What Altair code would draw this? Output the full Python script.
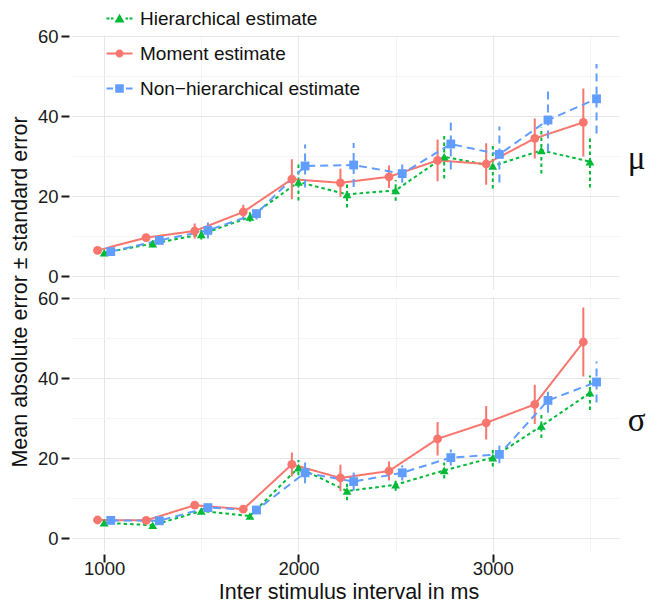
import altair as alt
import pandas as pd

isi = [1000, 1250, 1500, 1750, 2000, 2250, 2500, 2750, 3000, 3250, 3500]
params = ["\u03bc", "\u03c3"]
series = ["Hierarchical estimate", "Moment estimate", "Non\u2212hierarchical estimate"]
colors = ["#00BA38", "#F8766D", "#619CFF"]
shapes = ["triangle-up", "circle", "square"]
dashes = [[3.5, 3], [1, 0], [8, 5]]

# mu panel
hier_mu = [5.8, 8.1, 10.4, 14.75, 23.5, 20.4, 21.4, 29.8, 27.5, 31.4, 28.6]
hier_mu_se = [0.5, 0.9, 1.3, 1.2, 4.6, 3.3, 2.6, 5.4, 5.6, 5.75, 6.5]
mom_mu = [6.4, 9.6, 11.25, 16.0, 24.2, 23.3, 24.8, 28.9, 28.0, 34.4, 38.4]
mom_mu_se = [0.4, 0.7, 1.9, 1.8, 5.0, 3.5, 2.8, 5.2, 5.2, 5.0, 8.5]
non_mu = [6.1, 8.9, 11.4, 15.6, 27.5, 27.75, 25.6, 33.0, 30.4, 39.0, 44.3]
non_mu_se = [0.5, 0.8, 2.0, 1.5, 5.4, 5.5, 2.3, 6.4, 7.0, 7.9, 8.7]

# sigma panel
hier_sig = [3.8, 3.2, 6.75, 5.5, 17.6, 11.75, 13.3, 16.9, 20.1, 28.0, 36.3]
hier_sig_se = [0.4, 0.5, 0.6, 0.6, 1.9, 2.3, 1.5, 2.0, 2.2, 3.0, 4.3]
mom_sig = [4.5, 4.4, 8.2, 7.2, 18.4, 15.0, 16.75, 24.8, 28.8, 33.4, 49.0]
mom_sig_se = [0.4, 0.5, 0.6, 0.6, 3.0, 3.3, 2.4, 4.2, 4.2, 4.9, 8.6]
non_sig = [4.4, 4.3, 7.6, 7.0, 16.3, 14.1, 16.3, 20.1, 20.9, 34.4, 39.0]
non_sig_se = [0.4, 0.5, 0.6, 0.5, 2.6, 2.3, 1.9, 2.0, 2.2, 3.1, 5.1]

blocks = {
    params[0]: [(hier_mu, hier_mu_se), (mom_mu, mom_mu_se), (non_mu, non_mu_se)],
    params[1]: [(hier_sig, hier_sig_se), (mom_sig, mom_sig_se), (non_sig, non_sig_se)],
}
rows = []
for p in params:
    for s, (vals, ses) in zip(series, blocks[p]):
        for x, v, e in zip(isi, vals, ses):
            rows.append(dict(param=p, series=s, isi=x, value=v, se=e))
df = pd.DataFrame(rows)

FONT = "Liberation Sans"

legend_paths = [
    "M-2.6,-0.2H-2.0V0.2H-2.6Z M-1.7,-0.2H-1.2V0.2H-1.7Z M1.2,-0.2H1.7V0.2H1.2Z M2.0,-0.2H2.6V0.2H2.0Z M-1,0.8L0,-0.95L1,0.8Z",
    "M-2.6,-0.2H2.6V0.2H-2.6Z M-0.8,0A0.8,0.8,0,1,1,0.8,0A0.8,0.8,0,1,1,-0.8,0Z",
    "M-2.6,-0.2H-1.3V0.2H-2.6Z M1.3,-0.2H2.6V0.2H1.3Z M-0.85,-0.85H0.85V0.85H-0.85Z",
]

x_enc = alt.X(
    "xpos:Q",
    scale=alt.Scale(domain=[850, 3665], nice=False, zero=False),
    axis=alt.Axis(
        values=[1000, 1500, 2000, 2500, 3000, 3500],
        format="d",
        labelExpr="datum.value % 1000 === 0 ? datum.label : ''",
        tickOpacity={"condition": {"test": "datum.value % 1000 !== 0", "value": 0}, "value": 1},
        gridColor={"condition": {"test": "datum.value % 1000 !== 0", "value": "#F4F4F4"}, "value": "#E6E6E6"},
        labelPadding=-3,
        titlePadding=4,
        title="Inter stimulus interval in ms",
    ),
)
y_scale = alt.Scale(domain=[-2.5, 61], nice=False, zero=False)
y_axis = alt.Axis(
    values=[0, 10, 20, 30, 40, 50, 60],
    labelExpr="datum.value % 20 === 0 ? datum.label : ''",
    tickOpacity={"condition": {"test": "datum.value % 20 !== 0", "value": 0}, "value": 1},
    gridColor={"condition": {"test": "datum.value % 20 !== 0", "value": "#F4F4F4"}, "value": "#E6E6E6"},
    labelPadding=3,
    title=None,
)

color_scale = alt.Scale(domain=series, range=colors)
color_enc = alt.Color("series:N", scale=color_scale, title=None)

base = alt.Chart().transform_calculate(
    xpos="datum.isi + (datum.series === 'Moment estimate' ? -34 : (datum.series === 'Hierarchical estimate' ? 0 : 34))",
    lo="datum.value - datum.se",
    hi="datum.value + datum.se",
)

# legend-only layer (no rows drawn): coloured custom symbols showing line style + marker
leg = base.transform_filter("false").mark_point(filled=True, opacity=1).encode(
    x=x_enc,
    y=alt.Y("value:Q", scale=y_scale, axis=y_axis),
    color=color_enc,
    shape=alt.Shape("series:N", scale=alt.Scale(domain=series, range=legend_paths), title=None),
)

layers = [leg]
for s, dsh in zip(series, dashes):
    sub = base.transform_filter(alt.datum.series == s)
    layers.append(
        sub.mark_rule(strokeWidth=2, strokeDash=dsh).encode(
            x=x_enc, y=alt.Y("lo:Q", scale=y_scale, axis=y_axis), y2="hi:Q", color=color_enc
        )
    )
    layers.append(
        sub.mark_line(strokeWidth=2, strokeDash=dsh).encode(
            x=x_enc, y=alt.Y("value:Q", scale=y_scale, axis=y_axis), color=color_enc
        )
    )
for s, shp in zip(series, shapes):
    layers.append(
        base.transform_filter(alt.datum.series == s)
        .mark_point(filled=True, opacity=1, size=78, shape=shp)
        .encode(x=x_enc, y=alt.Y("value:Q", scale=y_scale, axis=y_axis), color=color_enc)
    )

layered = alt.layer(*layers).properties(width=547, height=254)

chart = layered.facet(
    row=alt.Row(
        "param:N",
        sort=params,
        title="Mean absolute error \u00b1 standard error",
        header=alt.Header(
            titleOrient="left",
            labelOrient="right",
            labelAngle=0,
            labelAlign="left",
            labelBaseline="middle",
            labelFont="Liberation Serif",
            labelFontSize=33,
            labelColor="#111",
            labelPadding=-12,
            titleFont=FONT,
            titleFontSize=21.5,
            titleFontWeight="normal",
            titleColor="#111",
            titlePadding=-4,
        ),
    ),
    data=df,
    spacing=5,
).properties(
    padding={"left": 1, "top": 1, "right": 0, "bottom": 0},
).configure_view(stroke=None).configure_axis(
    domain=False,
    labelFont=FONT,
    labelFontSize=18.5,
    labelColor="#1a1a1a",
    tickColor="#1a1a1a",
    tickWidth=2,
    tickSize=8,
    offset=3,
    titleFont=FONT,
    titleFontSize=21.5,
    titleFontWeight="normal",
    titleColor="#111",
).configure_legend(
    orient="none",
    legendX=35,
    legendY=-23,
    labelFont=FONT,
    labelFontSize=19,
    labelColor="#111",
    labelOffset=11,
    labelLimit=400,
    rowPadding=15,
    symbolSize=100,
    symbolStrokeWidth=0,
    padding=0,
)

chart.save("out.html", embed_options={"renderer": "svg", "actions": False})
